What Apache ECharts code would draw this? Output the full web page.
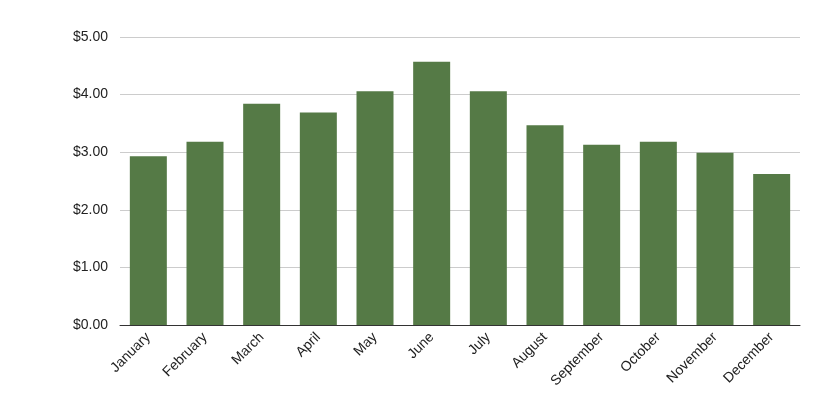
<!DOCTYPE html>
<html>
<head>
<meta charset="utf-8">
<script src="https://cdn.jsdelivr.net/npm/echarts@6/dist/echarts.min.js"></script>
<style>html,body{margin:0;padding:0;background:#fff}#chart{width:840px;height:420px}</style>
</head>
<body>
<div id="chart"></div>
<script>
var months = ['January', 'February', 'March', 'April', 'May', 'June', 'July', 'August', 'September', 'October', 'November', 'December'];
var prices = [2.93, 3.18, 3.84, 3.69, 4.06, 4.57, 4.06, 3.47, 3.13, 3.18, 2.99, 2.62];

var chart = echarts.init(document.getElementById('chart'));
chart.setOption({
    animation: false,
    textStyle: { fontFamily: 'Liberation Sans, Arial, sans-serif' },
    grid: { left: 120, right: 40, top: 37, bottom: 95 },
    xAxis: {
        type: 'category',
        data: months,
        axisTick: { show: false },
        axisLine: { lineStyle: { color: '#333' } },
        axisLabel: { rotate: 45, color: '#222', fontSize: 14, margin: 10, interval: 0 }
    },
    yAxis: {
        type: 'value',
        min: 0,
        max: 5,
        interval: 1,
        axisLine: { show: false },
        axisTick: { show: false },
        splitLine: { lineStyle: { color: '#ccc' } },
        axisLabel: {
            color: '#222', fontSize: 14, margin: 12,
            formatter: function (v) { return '$' + v.toFixed(2); }
        }
    },
    series: [{
        type: 'bar',
        data: prices,
        barWidth: 37,
        itemStyle: { color: '#557a46' }
    }]
});
</script>
</body>
</html>
